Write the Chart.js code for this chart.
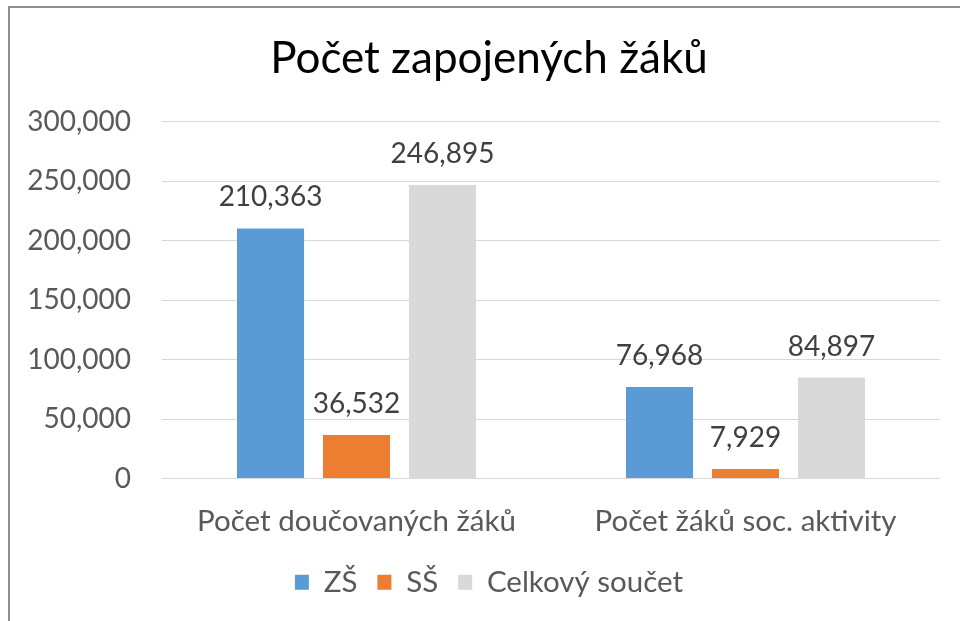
<!DOCTYPE html>
<html>
<head>
<meta charset="utf-8">
<script src="https://cdn.jsdelivr.net/npm/chart.js@4.4.0/dist/chart.umd.min.js"></script>
<style>
  html, body { margin: 0; padding: 0; background: #fff; overflow: hidden; width: 960px; height: 621px; }
  #frame { position: absolute; left: 8px; top: 6px; width: 958px; height: 640px;
           border-top: 2px solid #8f8f8f; border-left: 2px solid #8f8f8f; }
  #wrap { position: absolute; left: 0; top: 0; width: 958px; height: 640px; }
</style>
</head>
<body>
<div id="frame"><div id="wrap"><canvas id="c" width="958" height="640"></canvas></div></div>
<script>
const chartTitle = "Počet zapojených žáků";
const categories = ["Počet doučovaných žáků", "Počet žáků soc. aktivity"];
const seriesNames = ["ZŠ", "SŠ", "Celkový součet"];
const valuesZS = [210363, 76968];
const valuesSS = [36532, 7929];
const valuesTotal = [246895, 84897];
const seriesColors = ["#5B9BD5", "#ED7D31", "#D9D9D9"];
const yTicks = [0, 50000, 100000, 150000, 200000, 250000, 300000];

const FONT = "Lato, 'Liberation Sans', sans-serif";
const fmt = v => v.toLocaleString('en-US');

const dataLabels = {
  id: 'dataLabels',
  afterDatasetsDraw(chart) {
    const ctx = chart.ctx;
    ctx.save();
    ctx.font = "28px " + FONT;
    ctx.fillStyle = "#404040";
    ctx.textAlign = "center";
    ctx.textBaseline = "middle";
    chart.data.datasets.forEach((ds, i) => {
      const meta = chart.getDatasetMeta(i);
      meta.data.forEach((el, j) => {
        ctx.fillText(fmt(ds.data[j]), el.x, el.y - 31);
      });
    });
    ctx.restore();
  }
};

const seriesData = [valuesZS, valuesSS, valuesTotal];

new Chart(document.getElementById('c'), {
  type: 'bar',
  data: {
    labels: categories,
    datasets: seriesNames.map((n, i) => ({
      label: n,
      data: seriesData[i],
      backgroundColor: seriesColors[i],
      borderWidth: 0,
      categoryPercentage: 0.663,
      barPercentage: 0.78,
      yAxisID: 'y'
    }))
  },
  options: {
    responsive: false,
    animation: false,
    layout: { padding: { left: 0, right: 0, top: 0, bottom: 41 } },
    plugins: {
      title: {
        display: true,
        text: chartTitle,
        color: "#000000",
        font: { family: FONT, size: 44, weight: 'normal' },
        padding: { top: 24, bottom: 37 }
      },
      legend: {
        display: true,
        position: 'bottom',
        labels: {
          color: "#595959",
          font: { family: FONT, size: 29.5 },
          boxWidth: 14,
          boxHeight: 15,
          padding: 20
        }
      },
      tooltip: { enabled: false }
    },
    scales: {
      x: {
        grid: { display: false, drawTicks: false },
        border: { display: false },
        ticks: { color: "#595959", font: { family: FONT, size: 29.5 }, padding: 25, maxRotation: 0 },
        afterFit(scale) { scale.height = 69; }
      },
      y: {
        position: 'left',
        min: 0, max: 300000,
        afterBuildTicks(scale) { scale.ticks = yTicks.map(v => ({ value: v })); },
        grid: { color: "#D9D9D9", lineWidth: 1, drawTicks: false },
        border: { display: false },
        ticks: { color: "#595959", font: { family: FONT, size: 28 }, padding: 31, callback: v => fmt(v) },
        afterFit(scale) { scale.width = 152; }
      },
      yRightSpacer: {
        position: 'right',
        min: 0, max: 300000,
        grid: { display: false, drawTicks: false },
        border: { display: false },
        ticks: { display: false },
        afterFit(scale) { scale.width = 28; }
      }
    }
  },
  plugins: [dataLabels]
});
</script>
</body>
</html>
